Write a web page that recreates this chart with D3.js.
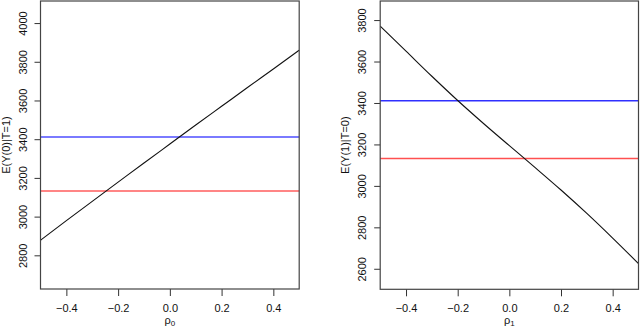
<!DOCTYPE html>
<meta charset="utf-8">
<script src="https://d3js.org/d3.v7.min.js"></script>
<style>
  body { margin: 0; background: #fff; }
  text { font-family: "Liberation Sans", Arial, Helvetica, sans-serif; }
</style>
<div id="my_dataviz"></div>
<script>

// values
var rho = [-0.5, -0.4, -0.3, -0.2, -0.1, 0.0, 0.1, 0.2, 0.3, 0.4, 0.5];
var ey0 = [2878, 2979, 3079, 3178, 3277, 3375, 3473, 3570, 3667, 3763, 3860];
var ey1 = [3771, 3650, 3529, 3412, 3301, 3194, 3088, 2980, 2867, 2748, 2625];
var blueRef = 3411;
var redRef = 3132;
var xTicks = [-0.4, -0.2, 0.0, 0.2, 0.4];
var yTicks0 = [2800, 3000, 3200, 3400, 3600, 3800, 4000];
var yTicks1 = [2600, 2800, 3000, 3200, 3400, 3600, 3800];

var svg = d3.select("#my_dataviz")
  .append("svg")
    .attr("width", 640)
    .attr("height", 327);

// one panel per curve
var panels = [
  { left: 40.5, right: 299.2, top: 1, bottom: 289, yDomain: [2626, 4114], yTicks: yTicks0,
    values: ey0, ylab: "E(Y(0)|T=1)", sub: "0", refWidth: 2, blue: "#7a7aff", red: "#ff8585" },
  { left: 380.2, right: 638.5, top: 1, bottom: 289.3, yDomain: [2501, 3892], yTicks: yTicks1,
    values: ey1, ylab: "E(Y(1)|T=0)", sub: "1", refWidth: 1.4, blue: "#3030ff", red: "#ff5050" }
];

panels.forEach(function(p) {
  var x = d3.scaleLinear().domain([-0.5, 0.5]).range([p.left, p.right]);
  var y = d3.scaleLinear().domain(p.yDomain).range([p.bottom, p.top]);
  var g = svg.append("g");

  // x axis
  var xa = g.append("g")
    .attr("transform", "translate(0," + p.bottom + ")")
    .call(d3.axisBottom(x).tickValues(xTicks).tickSize(7).tickPadding(8).tickFormat(d3.format(".1f")));
  xa.select(".domain").remove();
  xa.selectAll("line").attr("stroke", "#333");
  xa.selectAll("text").attr("font-size", 11).attr("fill", "#111")
    .attr("font-family", "'Liberation Sans', Arial, sans-serif");

  // y axis, labels parallel to the axis as in R
  var ya = g.append("g")
    .attr("transform", "translate(" + p.left + ",0)")
    .call(d3.axisLeft(y).tickValues(p.yTicks).tickSize(6).tickFormat(d3.format("d")));
  ya.select(".domain").remove();
  ya.selectAll("line").attr("stroke", "#333");
  ya.selectAll("text")
    .attr("font-size", 11).attr("fill", "#111")
    .attr("font-family", "'Liberation Sans', Arial, sans-serif")
    .attr("x", null).attr("dy", null)
    .attr("text-anchor", "middle")
    .attr("transform", "translate(-14,0) rotate(-90)");

  // reference lines
  g.append("line")
    .attr("x1", x(-0.5)).attr("x2", x(0.5))
    .attr("y1", y(blueRef)).attr("y2", y(blueRef))
    .attr("stroke", p.blue).attr("stroke-width", p.refWidth);
  g.append("line")
    .attr("x1", x(-0.5)).attr("x2", x(0.5))
    .attr("y1", y(redRef)).attr("y2", y(redRef))
    .attr("stroke", p.red).attr("stroke-width", p.refWidth);

  // sensitivity curve
  var line = d3.line()
    .x(function(d, i) { return x(rho[i]); })
    .y(function(d) { return y(d); })
    .curve(d3.curveMonotoneX);
  g.append("path")
    .datum(p.values)
    .attr("d", line)
    .attr("fill", "none")
    .attr("stroke", "#111")
    .attr("stroke-width", 1.1);

  // box
  g.append("rect")
    .attr("x", p.left).attr("y", p.top)
    .attr("width", p.right - p.left).attr("height", p.bottom - p.top)
    .attr("fill", "none").attr("stroke", "#444").attr("stroke-width", 1.2);

  // axis titles
  var xt = g.append("text")
    .attr("x", (p.left + p.right) / 2)
    .attr("y", 324)
    .attr("text-anchor", "middle")
    .attr("font-size", 11)
    .attr("fill", "#111");
  xt.append("tspan").text("ρ");
  xt.append("tspan").attr("font-size", 8).attr("dy", 2).text(p.sub);

  g.append("text")
    .attr("transform", "translate(" + (p.left - 31) + "," + ((p.top + p.bottom) / 2) + ") rotate(-90)")
    .attr("text-anchor", "middle")
    .attr("font-size", 11)
    .attr("fill", "#111")
    .text(p.ylab);
});

</script>
